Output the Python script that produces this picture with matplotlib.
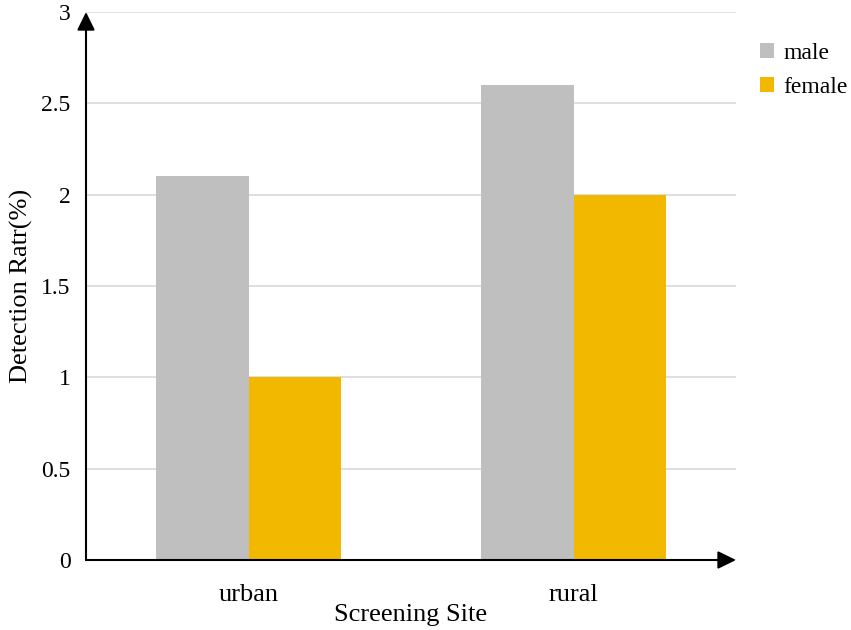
import matplotlib
matplotlib.use("Agg")
import matplotlib.pyplot as plt
import numpy as np

categories = ["urban", "rural"]
series_names = ["male", "female"]
male = [2.1, 2.6]
female = [1.0, 2.0]
yticks = [0, 0.5, 1, 1.5, 2, 2.5, 3]
ytick_labels = ["0", "0.5", "1", "1.5", "2", "2.5", "3"]

plt.rcParams['font.family'] = ['Liberation Serif', 'DejaVu Serif']

fig = plt.figure(figsize=(8.51, 6.3), dpi=100)
ax = fig.add_axes([86/851, 70/630, 650/851, 548/630])

x = np.arange(len(categories))
w = 0.285
ax.bar(x - w/2, male, width=w, color="#BFBFBF", label=series_names[0], zorder=2)
ax.bar(x + w/2, female, width=w, color="#F2B800", label=series_names[1], zorder=2)

ax.set_xlim(-0.5, 1.5)
ax.set_ylim(0, 3)
ax.set_yticks(yticks)
ax.set_yticklabels(ytick_labels, fontsize=17)
ax.set_xticks(x)
ax.set_xticklabels(categories, fontsize=19)
ax.tick_params(axis='both', length=0)
ax.tick_params(axis='y', pad=11)
ax.tick_params(axis='x', pad=17)
for s in ax.spines.values():
    s.set_visible(False)
ax.yaxis.grid(True, color="#D9D9D9", linewidth=1.2, zorder=0)
ax.set_axisbelow(True)

# axis arrows
style = "-|>,head_length=1.1,head_width=0.54"
ax.annotate("", xy=(0, 1.0), xytext=(0, 0), xycoords='axes fraction',
            arrowprops=dict(arrowstyle=style, color="black", lw=1.5,
                            shrinkA=0, shrinkB=0), annotation_clip=False)
ax.annotate("", xy=(1.0, 0), xytext=(0, 0), xycoords='axes fraction',
            arrowprops=dict(arrowstyle=style, color="black", lw=1.5,
                            shrinkA=0, shrinkB=0), annotation_clip=False)

ax.set_xlabel("Screening Site", fontsize=19, labelpad=-1)
ax.set_ylabel("Detection Ratr(%)", fontsize=19, labelpad=6)

ax.legend(loc="upper left", bbox_to_anchor=(1.0037, 0.983), frameon=False, fontsize=17,
          handlelength=0.6, handleheight=0.6, handletextpad=0.42, labelspacing=0.56)

fig.savefig("out.png", dpi=100)
